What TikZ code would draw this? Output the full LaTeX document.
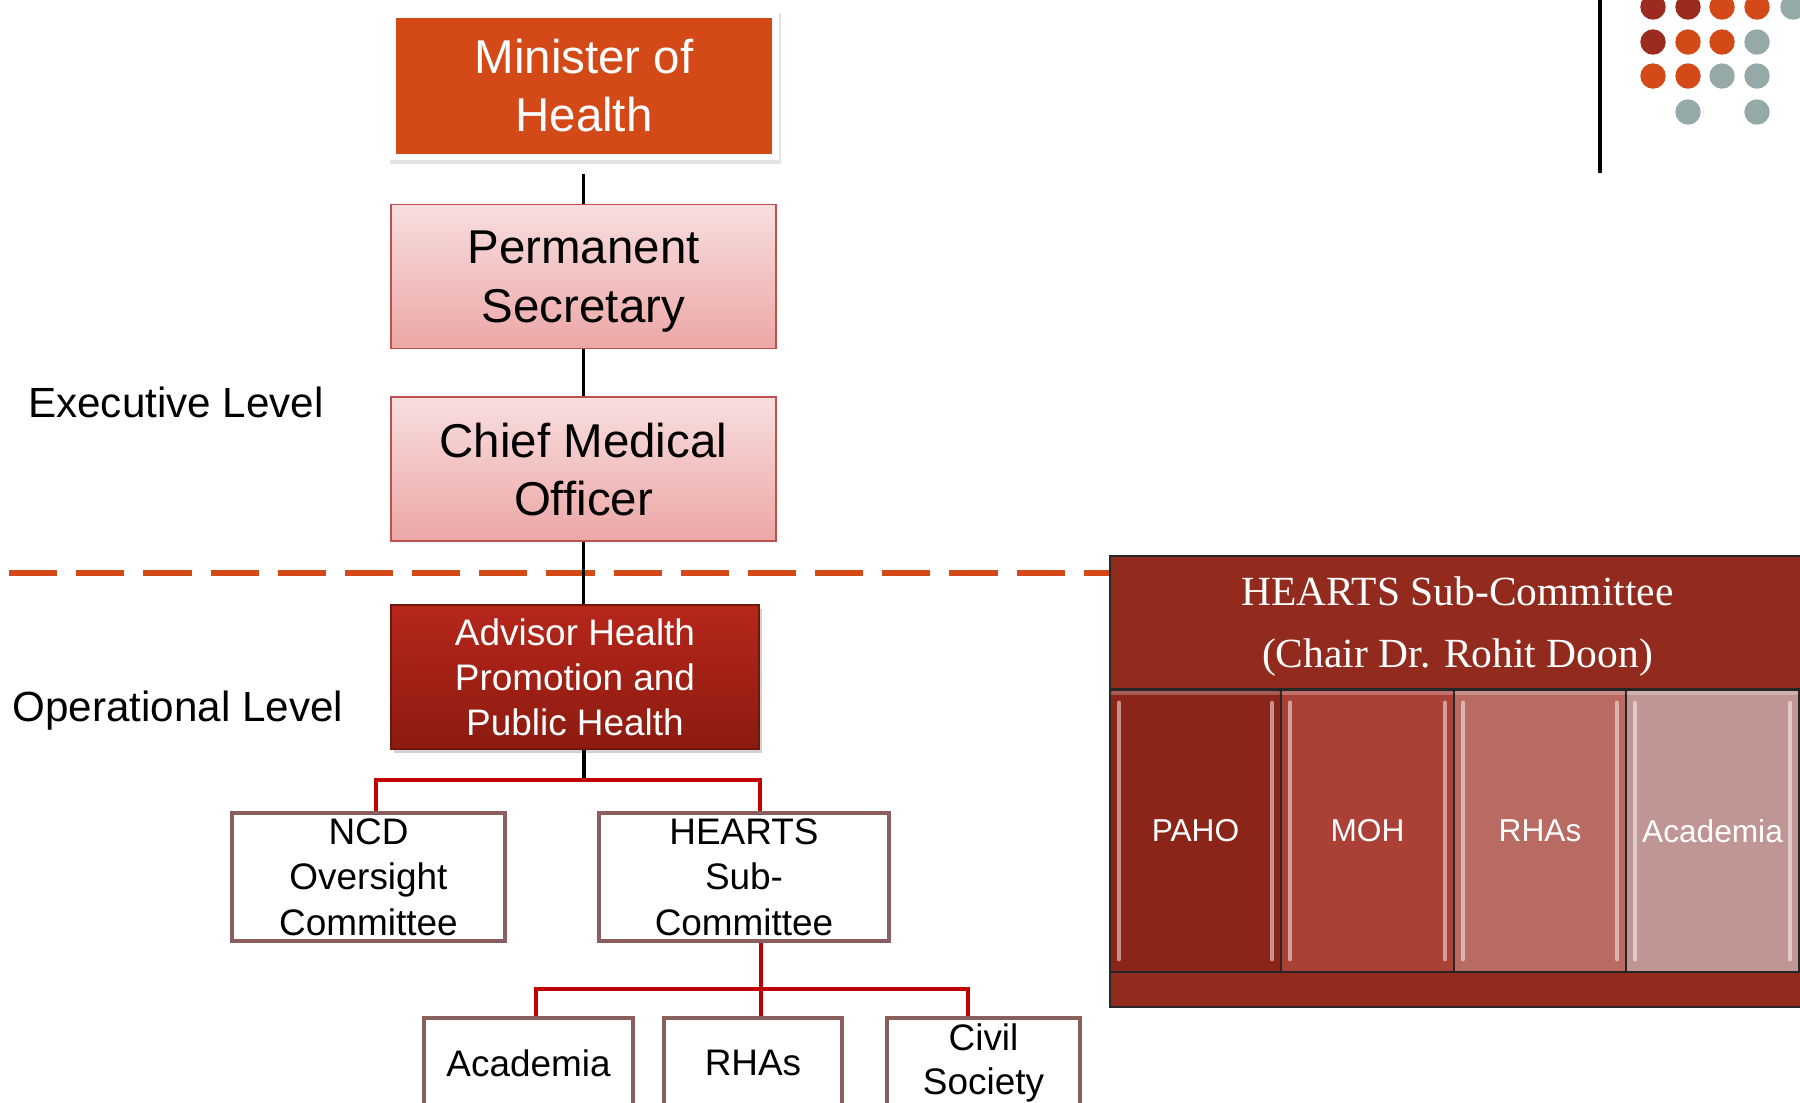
\documentclass[tikz,border=0pt]{standalone}
\usepackage{fontspec}
\setmainfont{Liberation Sans}
\newfontfamily\serifft{Liberation Serif}
\usetikzlibrary{shadows,calc}
\definecolor{orng}{HTML}{D34A18}
\definecolor{dkred}{HTML}{9B2B1F}
\definecolor{dotgray}{HTML}{95A9A8}
\definecolor{pinktop}{HTML}{F8DEDE}
\definecolor{pinkbot}{HTML}{ECA7A6}
\definecolor{pinkbd}{HTML}{C0504D}
\definecolor{advtop}{HTML}{B6261B}
\definecolor{advbot}{HTML}{8C1B10}
\definecolor{boxbd}{HTML}{8B5E5E}
\definecolor{linered}{HTML}{C00000}
\definecolor{hdrred}{HTML}{922A1D}
\definecolor{colA}{HTML}{8C2519}
\definecolor{colB}{HTML}{AB4136}
\definecolor{colC}{HTML}{B96A63}
\definecolor{colD}{HTML}{C09694}
\begin{document}
\begin{tikzpicture}[x=0.01cm,y=-0.01cm,
  blk/.style={draw=black,line width=0.95pt},
  redl/.style={draw=linered,line width=1.15pt},
  dashl/.style={draw=orng,line width=1.7pt,dash pattern=on 13.7pt off 5.4pt},
  mframe/.style={fill=white,minimum width=3.91cm,minimum height=1.51cm,inner sep=0pt,
     drop shadow={opacity=0.22,shadow xshift=0.6pt,shadow yshift=-1.2pt}},
  minbox/.style={fill=orng,text=white,minimum width=3.76cm,minimum height=1.36cm,inner sep=0pt,
     align=center,font=\fontsize{13.5}{16.5}\selectfont},
  pinkbox/.style={draw=pinkbd,line width=0.5pt,top color=pinktop,bottom color=pinkbot,
     minimum width=3.85cm,minimum height=1.44cm,inner sep=0pt,align=center,text depth=0pt,
     font=\fontsize{13.5}{16.6}\selectfont},
  advbox/.style={draw=advbot!80!black,line width=0.4pt,top color=advtop,bottom color=advbot,text=white,
     minimum width=3.68cm,minimum height=1.44cm,inner sep=0pt,align=center,
     font=\fontsize{10.5}{12.8}\selectfont,
     drop shadow={opacity=0.35,shadow xshift=0.8pt,shadow yshift=-1.2pt}},
  whbox/.style={draw=boxbd,line width=1.15pt,fill=white,minimum width=2.73cm,minimum height=1.28cm,
     inner sep=0pt,align=center,font=\fontsize{10.5}{13}\selectfont},
  lowbox/.style={draw=boxbd,line width=1.15pt,fill=white,minimum height=0.9cm,
     inner sep=0pt,align=center,font=\fontsize{10.5}{12.5}\selectfont},
  lvl/.style={inner sep=0pt,font=\fontsize{12}{14}\selectfont},
  panel/.style={draw=black!85,line width=0.6pt,inner sep=0pt},
  colbox/.style={panel,text=white,minimum width=1.72cm,minimum height=2.82cm,
     font=\fontsize{9}{11}\selectfont},
  bevel/.style={draw=white,opacity=0.5,line width=1.3pt,line cap=round}
]
\useasboundingbox (0,0) rectangle (1800,1102);
\clip (0,0) rectangle (1800,1102);
\fill[white] (0,0) rectangle (1800,1102);

% decorative dots and rule
\coordinate (vt) at (1600,0);
\coordinate (vb) at (1600,173);
\draw[blk] (vt) -- (vb);
\foreach \x/\y/\c in {1653/7/dkred,1688/7/dkred,1722/7/orng,1757/7/orng,1793/7/dotgray,
  1653/42/dkred,1688/42/orng,1722/42/orng,1757/42/dotgray,
  1653/76/orng,1688/76/orng,1722/76/dotgray,1757/76/dotgray,
  1688/112/dotgray,1757/112/dotgray}
  \fill[\c] (\x,\y) circle[radius=0.127cm];

% level labels
\node[lvl] (exec) at (176,402) {Executive Level};
\node[lvl] (oper) at (178,711) {Operational Level};

% right panel
\node[panel,fill=hdrred,text=white,minimum width=6.95cm,minimum height=1.33cm,align=center,
  text depth=0pt,font=\serifft\fontsize{11.8}{17.6}\selectfont] (hdr) at (1457.5,622.5)
  {HEARTS Sub-Committee\\(Chair Dr. Rohit Doon)};

% dashed divider
\coordinate (dl) at (9,573);
\draw[dashl] (dl) -- (dl -| hdr.west);

\node[colbox,fill=colA,minimum width=1.71cm] (paho) at (1195.5,831) {PAHO};
\node[colbox,fill=colB,minimum width=1.73cm] (moh) at (1367.5,831) {MOH};
\node[colbox,fill=colC,minimum width=1.72cm] (rhas) at (1540,831) {RHAs};
\node[colbox,fill=colD,minimum width=1.73cm] (acad) at (1712.5,831) {Academia};
\node[panel,fill=hdrred,minimum width=6.95cm,minimum height=0.35cm] (band) at (1457.5,989.5) {};
\foreach \n in {paho,moh,rhas,acad}{
  \draw[bevel] ($(\n.north west)+(10,14)$) -- ($(\n.south west)+(10,-14)$);
  \draw[bevel] ($(\n.north east)+(-10,14)$) -- ($(\n.south east)+(-10,-14)$);
  \draw[bevel,opacity=0.25] ($(\n.north west)+(4,4)$) -- ($(\n.north east)+(-4,4)$);
}

% hierarchy
\node[mframe] (mframe) at (583.5,84.5) {};
\node[minbox] (min) at (584,86) {Minister of\\Health};
\node[pinkbox] (ps) at (583.5,276.5) {Permanent\\Secretary};
\node[pinkbox] (cmo) at (583.5,469) {Chief Medical\\Officer};

\draw[blk] ([yshift=-3.7pt]mframe.south) -- (ps.north);
\draw[blk] (ps.south) -- (cmo.north);
\draw[blk] (cmo.south) -- (cmo.south |- 0,605);

\node[advbox] (adv) at (575,677) {Advisor Health\\Promotion and\\Public Health};

\node[whbox] (ncd) at (368.5,877) {NCD\\Oversight\\Committee};
\node[whbox,minimum width=2.90cm] (hrt) at (744,877) {HEARTS\\Sub-\\Committee};

\node[lowbox,minimum width=2.09cm] (aca) at (528.5,1063) {Academia};
\node[lowbox,minimum width=1.78cm] (rha) at (753,1063) {RHAs};
\node[lowbox,minimum width=1.93cm] (civ) at (983.5,1063) {Civil\\Society};

\coordinate (j1) at (584,780);
\coordinate (n1) at (376,780);
\coordinate (h1) at (760,780);
\draw[blk] (j1 |- adv.south) -- (j1);
\draw[redl] (n1 |- ncd.north) -- (n1) -- (h1) -- (h1 |- hrt.north);

\coordinate (j2) at (761,989);
\coordinate (a1) at (536,989);
\coordinate (c1) at (968,989);
\draw[redl] (j2 |- hrt.south) -- (j2);
\draw[redl] (a1 |- aca.north) -- (a1) -- (c1) -- (c1 |- civ.north);
\draw[redl] (j2) -- (j2 |- rha.north);
\end{tikzpicture}
\end{document}
